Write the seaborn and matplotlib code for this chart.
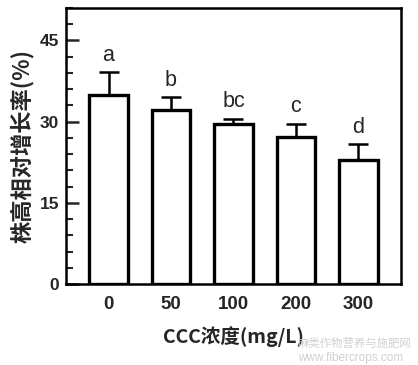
import seaborn as sns
import pandas as pd
import matplotlib as mpl
from matplotlib import pyplot as plt

sns.set_style("white")
plt.rcParams['font.family'] = ['Liberation Sans', 'Noto Sans CJK SC', 'DejaVu Sans']

# values
conc = ['0', '50', '100', '200', '300']
growth = [35.0, 32.2, 29.6, 27.2, 23.0]
err = [4.1, 2.3, 0.9, 2.4, 2.8]
letters = ['a', 'b', 'bc', 'c', 'd']

df = pd.DataFrame({'conc': conc, 'growth': growth, 'err': err})

fig = plt.figure(figsize=(4.18, 3.65), dpi=100)
ax = fig.add_axes([0.158, 0.222, 0.801, 0.756])

sns.barplot(data=df, x='conc', y='growth', order=conc, errorbar=None,
            color='white', edgecolor='black', linewidth=2.4, width=0.62,
            saturation=1, ax=ax)

ax.errorbar(range(len(conc)), df['growth'], yerr=[[0] * len(err), df['err']],
            fmt='none', ecolor='black', elinewidth=1.8, capsize=7, capthick=1.8,
            zorder=1)

for i, (g, e, lab) in enumerate(zip(growth, err, letters)):
    ax.text(i, g + e + 1.2, lab, ha='center', va='bottom', fontsize=15.5)

ax.set_xlim(-0.68, 4.68)
ax.set_ylim(0, 51)
ax.set_yticks([0, 15, 30, 45])
ax.yaxis.set_minor_locator(mpl.ticker.MultipleLocator(3))
ax.tick_params(axis='y', which='major', direction='in', length=9, width=1.8,
               left=True, labelsize=12.5, pad=5)
ax.tick_params(axis='y', which='minor', direction='in', length=5, width=1.5,
               left=True)
ax.tick_params(axis='x', which='major', direction='in', length=5, width=1.5,
               bottom=True, labelsize=13.5, pad=9)
for lab in ax.get_xticklabels() + ax.get_yticklabels():
    lab.set_fontweight('bold')

for s in ax.spines.values():
    s.set_linewidth(1.8)
    s.set_color('black')

ax.set_xlabel('CCC浓度(mg/L)', fontsize=14, fontweight='bold',
              family=['Noto Sans CJK SC'], labelpad=9)
ax.set_ylabel('株高相对增长率(%)', fontsize=16, fontweight='bold',
              family=['Noto Sans CJK SC'], labelpad=4)

fig.text(0.712, 0.05, '麻类作物营养与施肥网', fontsize=8.2, color='#d0d0d0',
         family=['Noto Sans CJK SC'])
fig.text(0.712, 0.012, 'www.fibercrops.com', fontsize=8.5, color='#d0d0d0')

plt.savefig('out.png', dpi=100)
